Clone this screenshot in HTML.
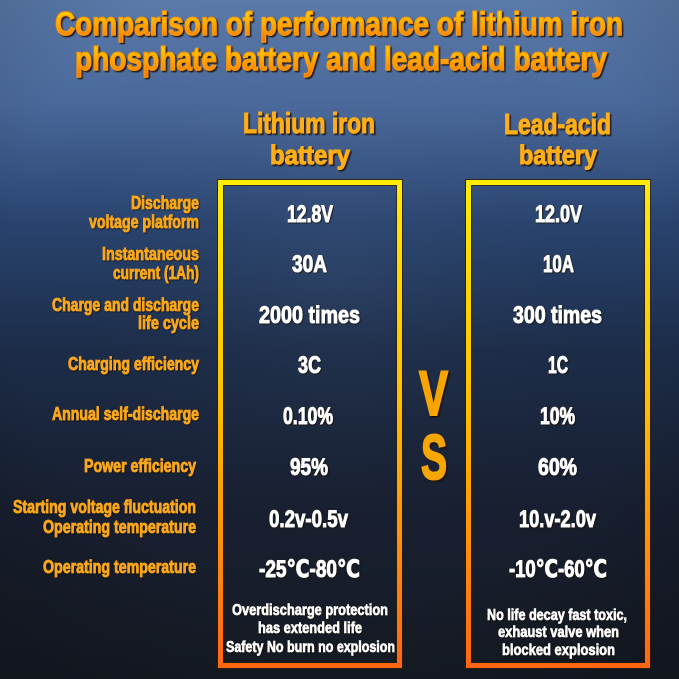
<!DOCTYPE html>
<html>
<head>
<meta charset="utf-8">
<style>
html,body{margin:0;padding:0;background:#151a24;}
svg{display:block;}
text{font-family:"Liberation Sans","DejaVu Sans","Noto Sans CJK SC",sans-serif;font-weight:bold;}
</style>
</head>
<body>
<svg width="679" height="679" viewBox="0 0 679 679" xmlns="http://www.w3.org/2000/svg">
<defs>
  <linearGradient id="bg" x1="0" y1="0" x2="0" y2="1">
    <stop offset="0" stop-color="#5a7aaa"/>
    <stop offset="0.15" stop-color="#4a699b"/>
    <stop offset="0.33" stop-color="#28436e"/>
    <stop offset="0.52" stop-color="#1c2c48"/>
    <stop offset="0.75" stop-color="#181f30"/>
    <stop offset="1" stop-color="#161b24"/>
  </linearGradient>
  <radialGradient id="vig" cx="0.5" cy="0.4" r="0.75">
    <stop offset="0" stop-color="#ffffff" stop-opacity="0.04"/>
    <stop offset="0.65" stop-color="#000000" stop-opacity="0"/>
    <stop offset="1" stop-color="#000000" stop-opacity="0.2"/>
  </radialGradient>
  <linearGradient id="boxg" gradientUnits="userSpaceOnUse" x1="0" y1="180" x2="0" y2="668">
    <stop offset="0" stop-color="#ffec00"/>
    <stop offset="0.45" stop-color="#ffbf00"/>
    <stop offset="1" stop-color="#ff6512"/>
  </linearGradient>
  <linearGradient id="tg" x1="0" y1="0" x2="0" y2="1">
    <stop offset="0" stop-color="#ffe600"/>
    <stop offset="0.5" stop-color="#ffae00"/>
    <stop offset="1" stop-color="#ff6e00"/>
  </linearGradient>
  <filter id="sh" x="-10%" y="-30%" width="120%" height="160%">
    <feDropShadow dx="1.5" dy="1.5" stdDeviation="0.6" flood-color="#1a1005" flood-opacity="0.9"/>
  </filter>
  <filter id="sh2" x="-10%" y="-30%" width="120%" height="160%">
    <feDropShadow dx="0.8" dy="0.8" stdDeviation="0.4" flood-color="#140c04" flood-opacity="0.9"/>
  </filter>
</defs>

<rect x="0" y="0" width="679" height="679" fill="url(#bg)"/>
<rect x="0" y="0" width="679" height="679" fill="url(#vig)"/>

<!-- Title -->
<g fill="url(#tg)" stroke="#ff9a00" stroke-width="1.2" filter="url(#sh)" font-size="33">
  <text x="55" y="35" textLength="568" lengthAdjust="spacingAndGlyphs">Comparison of performance of lithium iron</text>
  <text x="75" y="70" textLength="532" lengthAdjust="spacingAndGlyphs">phosphate battery and lead-acid battery</text>
</g>

<!-- Column headings -->
<g fill="#ffae16" stroke="#ffae16" stroke-width="1" filter="url(#sh)">
  <text x="243" y="133" font-size="29" textLength="132" lengthAdjust="spacingAndGlyphs">Lithium iron</text>
  <text x="270" y="164" font-size="27" textLength="80" lengthAdjust="spacingAndGlyphs">battery</text>
  <text x="504" y="134" font-size="29" textLength="107" lengthAdjust="spacingAndGlyphs">Lead-acid</text>
  <text x="519" y="164" font-size="27" textLength="78" lengthAdjust="spacingAndGlyphs">battery</text>
</g>

<!-- Boxes -->
<g fill="none">
  <rect x="217.5" y="179.5" width="185" height="489" stroke="#2a1d0c" stroke-opacity="0.8" stroke-width="1"/>
  <rect x="220.5" y="182.5" width="179" height="483" stroke="url(#boxg)" stroke-width="5"/>
  <rect x="223.5" y="185.5" width="173" height="477" stroke="#2a1d0c" stroke-opacity="0.7" stroke-width="1"/>
  <rect x="465.5" y="179.5" width="185" height="489" stroke="#2a1d0c" stroke-opacity="0.8" stroke-width="1"/>
  <rect x="468.5" y="182.5" width="179" height="483" stroke="url(#boxg)" stroke-width="5"/>
  <rect x="471.5" y="185.5" width="173" height="477" stroke="#2a1d0c" stroke-opacity="0.7" stroke-width="1"/>
</g>

<!-- Row labels -->
<g fill="#f8a71e" stroke="#f8a71e" stroke-width="0.8" font-size="18" filter="url(#sh2)">
  <text x="131" y="209" textLength="68" lengthAdjust="spacingAndGlyphs">Discharge</text>
  <text x="89" y="228" textLength="110" lengthAdjust="spacingAndGlyphs">voltage platform</text>
  <text x="102" y="260" textLength="97" lengthAdjust="spacingAndGlyphs">Instantaneous</text>
  <text x="113" y="279" textLength="86" lengthAdjust="spacingAndGlyphs">current (1Ah)</text>
  <text x="52" y="311" textLength="147" lengthAdjust="spacingAndGlyphs">Charge and discharge</text>
  <text x="138" y="329" textLength="61" lengthAdjust="spacingAndGlyphs">life cycle</text>
  <text x="68" y="370" textLength="131" lengthAdjust="spacingAndGlyphs">Charging efficiency</text>
  <text x="52" y="420" textLength="147" lengthAdjust="spacingAndGlyphs">Annual self-discharge</text>
  <text x="84" y="472" textLength="112" lengthAdjust="spacingAndGlyphs">Power efficiency</text>
  <text x="13" y="513" textLength="183" lengthAdjust="spacingAndGlyphs">Starting voltage fluctuation</text>
  <text x="43" y="533" textLength="153" lengthAdjust="spacingAndGlyphs">Operating temperature</text>
  <text x="43" y="573" textLength="153" lengthAdjust="spacingAndGlyphs">Operating temperature</text>
</g>

<!-- Values -->
<g fill="#ffffff" stroke="#ffffff" stroke-width="0.9" font-size="24" filter="url(#sh2)">
  <text x="287" y="222" textLength="46" lengthAdjust="spacingAndGlyphs">12.8V</text>
  <text x="292" y="272" textLength="35" lengthAdjust="spacingAndGlyphs">30A</text>
  <text x="259" y="323" textLength="101" lengthAdjust="spacingAndGlyphs">2000 times</text>
  <text x="298" y="373" textLength="23" lengthAdjust="spacingAndGlyphs">3C</text>
  <text x="283" y="424" textLength="50" lengthAdjust="spacingAndGlyphs">0.10%</text>
  <text x="290" y="475" textLength="38" lengthAdjust="spacingAndGlyphs">95%</text>
  <text x="269" y="527" textLength="79" lengthAdjust="spacingAndGlyphs">0.2v-0.5v</text>
  <text x="259" y="577" textLength="101" lengthAdjust="spacingAndGlyphs">-25℃-80℃</text>

  <text x="535" y="222" textLength="47" lengthAdjust="spacingAndGlyphs">12.0V</text>
  <text x="543" y="272" textLength="31" lengthAdjust="spacingAndGlyphs">10A</text>
  <text x="513" y="323" textLength="89" lengthAdjust="spacingAndGlyphs">300 times</text>
  <text x="548" y="373" textLength="20" lengthAdjust="spacingAndGlyphs">1C</text>
  <text x="540" y="424" textLength="35" lengthAdjust="spacingAndGlyphs">10%</text>
  <text x="538" y="475" textLength="39" lengthAdjust="spacingAndGlyphs">60%</text>
  <text x="519" y="527" textLength="77" lengthAdjust="spacingAndGlyphs">10.v-2.0v</text>
  <text x="509" y="577" textLength="98" lengthAdjust="spacingAndGlyphs">-10℃-60℃</text>
</g>

<!-- Footnotes -->
<g fill="#ffffff" stroke="#ffffff" stroke-width="0.6" font-size="16" filter="url(#sh2)">
  <text x="232" y="615" textLength="156" lengthAdjust="spacingAndGlyphs">Overdischarge protection</text>
  <text x="258" y="633" textLength="104" lengthAdjust="spacingAndGlyphs">has extended life</text>
  <text x="226" y="652" textLength="169" lengthAdjust="spacingAndGlyphs">Safety No burn no explosion</text>

  <text x="487" y="620" textLength="140" lengthAdjust="spacingAndGlyphs">No life decay fast toxic,</text>
  <text x="498" y="637" textLength="121" lengthAdjust="spacingAndGlyphs">exhaust valve when</text>
  <text x="502" y="655" textLength="113" lengthAdjust="spacingAndGlyphs">blocked explosion</text>
</g>

<!-- VS -->
<g fill="#f7a600" stroke="#f7a600" stroke-width="2" font-size="63" filter="url(#sh)">
  <text x="419" y="415" textLength="29" lengthAdjust="spacingAndGlyphs">V</text>
  <text x="421" y="479" textLength="26" lengthAdjust="spacingAndGlyphs">S</text>
</g>
</svg>
</body>
</html>
